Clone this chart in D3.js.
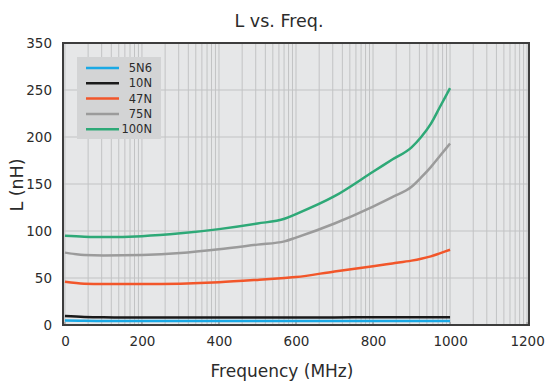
<!DOCTYPE html>
<html>
<head>
<meta charset="utf-8">
<script src="https://cdn.jsdelivr.net/npm/d3@7"></script>
<style>
  body { margin: 0; background: #fff; }
  text { font-family: "DejaVu Sans", sans-serif; fill: #2b2b2b; }
</style>
</head>
<body>
<script>
width = 551;
height = 381;
margin = { top: 43, right: 22, bottom: 56, left: 63 };

// frequency samples (MHz)
var freqs = [0, 50, 100, 200, 300, 400, 500, 570, 600, 700, 800, 850, 900, 925, 950, 975, 1000];

var series_names = ["5N6", "10N", "47N", "75N", "100N"];
var series_colors = ["#1aa9e5", "#1a1a1a", "#f2562a", "#9b9b9b", "#2ea977"];

// inductance (nH)
var l_5n6 = [4.8, 4.5, 4.3, 4.2, 4.2, 4.2, 4.2, 4.2, 4.2, 4.2, 4.2, 4.2, 4.2, 4.2, 4.2, 4.2, 4.2];
var l_10n = [9.5, 8.6, 8.2, 8.0, 8.0, 8.0, 8.0, 8.1, 8.1, 8.1, 8.2, 8.2, 8.2, 8.3, 8.3, 8.3, 8.3];
var l_47n = [46, 44, 43.5, 43.5, 44, 45.5, 48, 50, 51, 57, 62.5, 65.5, 68.5, 70.5, 73, 76.5, 80];
var l_75n = [77, 74.5, 74, 74.5, 76.5, 80.5, 85.5, 89, 93, 108, 126, 136, 147, 157, 168, 180.5, 193];
var l_100n = [95, 94, 93.5, 94.5, 97.5, 102, 108, 113, 118, 137, 163, 176, 189, 200, 214, 233, 252];
var all_series = [l_5n6, l_10n, l_47n, l_75n, l_100n];

var x_ticks = [0, 200, 400, 600, 800, 1000, 1200];
var y_ticks = [0, 50, 100, 150, 200, 250, 300];
var y_tick_labels = ["0", "50", "100", "150", "200", "250", "350"];

x = d3.scaleLinear().domain([-5, 1205]).range([margin.left, width - margin.right]);
y = d3.scaleLinear().domain([0, 300]).range([height - margin.bottom, margin.top]);

const svg = d3.select("body").append("svg")
  .attr("width", width)
  .attr("height", height);

// plot background
svg.append("rect")
  .attr("x", x.range()[0]).attr("y", y.range()[1])
  .attr("width", x.range()[1] - x.range()[0])
  .attr("height", y.range()[0] - y.range()[1])
  .attr("fill", "#e6e7e8");

// vertical grid: log-style minor lines inside each 200 MHz step
var grid_x = [];
for (var i = 0; i < 6; i++) {
  for (var k = 1; k <= 10; k++) {
    if (k == 10 && i < 5) continue;
    grid_x.push(200 * i + 200 * Math.log10(k));
  }
}
svg.append("g").attr("class", "grid-x")
  .selectAll("line").data(grid_x).join("line")
  .attr("x1", d => x(d)).attr("x2", d => x(d))
  .attr("y1", y.range()[0]).attr("y2", y.range()[1])
  .attr("stroke", "#c2c3c4").attr("stroke-width", 1);

svg.append("g").attr("class", "grid-y")
  .selectAll("line").data(y_ticks.slice(1, -1)).join("line")
  .attr("x1", x.range()[0]).attr("x2", x.range()[1])
  .attr("y1", d => y(d)).attr("y2", d => y(d))
  .attr("stroke", "#c2c3c4").attr("stroke-width", 1);

// axes
const xAxis = d3.axisBottom(x).tickValues(x_ticks)
  .tickFormat(d3.format("d")).tickSize(0).tickPadding(11);
const gX = svg.append("g")
  .attr("transform", `translate(0,${y.range()[0]})`)
  .call(xAxis);
gX.select(".domain").remove();
gX.selectAll("text").attr("font-size", 13.5).attr("fill", "#2b2b2b")
  .attr("font-family", "DejaVu Sans, sans-serif");

// small inward tick marks
svg.append("g").selectAll("line").data(x_ticks).join("line")
  .attr("x1", d => x(d)).attr("x2", d => x(d))
  .attr("y1", y.range()[0]).attr("y2", y.range()[0] - 3)
  .attr("stroke", "#888");

const yAxis = d3.axisLeft(y).tickValues(y_ticks)
  .tickFormat((d, i) => y_tick_labels[i]).tickSize(0).tickPadding(11);
const gY = svg.append("g")
  .attr("transform", `translate(${x.range()[0]},0)`)
  .call(yAxis);
gY.select(".domain").remove();
gY.selectAll("text").attr("font-size", 13.5).attr("fill", "#2b2b2b")
  .attr("font-family", "DejaVu Sans, sans-serif");

// curves
const line = d3.line()
  .x((d, i) => x(freqs[i]))
  .y(d => y(d))
  .curve(d3.curveMonotoneX);

svg.append("g").attr("class", "curves")
  .selectAll("path").data(all_series).join("path")
  .attr("d", d => line(d))
  .attr("fill", "none")
  .attr("stroke", (d, i) => series_colors[i])
  .attr("stroke-width", 2.5);

// frame
svg.append("rect")
  .attr("x", x.range()[0]).attr("y", y.range()[1])
  .attr("width", x.range()[1] - x.range()[0])
  .attr("height", y.range()[0] - y.range()[1])
  .attr("fill", "none")
  .attr("stroke", "#3d3d3d").attr("stroke-width", 2);

// legend
const legend = svg.append("g").attr("class", "legend");
legend.append("rect")
  .attr("x", 77).attr("y", 57).attr("width", 84).attr("height", 82)
  .attr("fill", "#d3d4d5");
const rows = legend.selectAll("g.row").data(series_names).join("g")
  .attr("class", "row")
  .attr("transform", (d, i) => `translate(0,${68 + i * 15.3})`);
rows.append("line")
  .attr("x1", 86).attr("x2", 119)
  .attr("stroke", (d, i) => series_colors[i])
  .attr("stroke-width", 2.5);
rows.append("text")
  .attr("x", 152).attr("dy", "0.36em")
  .attr("text-anchor", "end")
  .attr("font-size", 11.5)
  .text(d => d);

// titles
svg.append("text")
  .attr("x", 279).attr("y", 27)
  .attr("text-anchor", "middle")
  .attr("font-size", 17.5)
  .text("L vs. Freq.");

svg.append("text")
  .attr("x", 282).attr("y", 377)
  .attr("text-anchor", "middle")
  .attr("font-size", 17)
  .text("Frequency (MHz)");

svg.append("text")
  .attr("transform", "translate(23,185) rotate(-90)")
  .attr("text-anchor", "middle")
  .attr("font-size", 17.5)
  .text("L (nH)");
</script>
</body>
</html>
